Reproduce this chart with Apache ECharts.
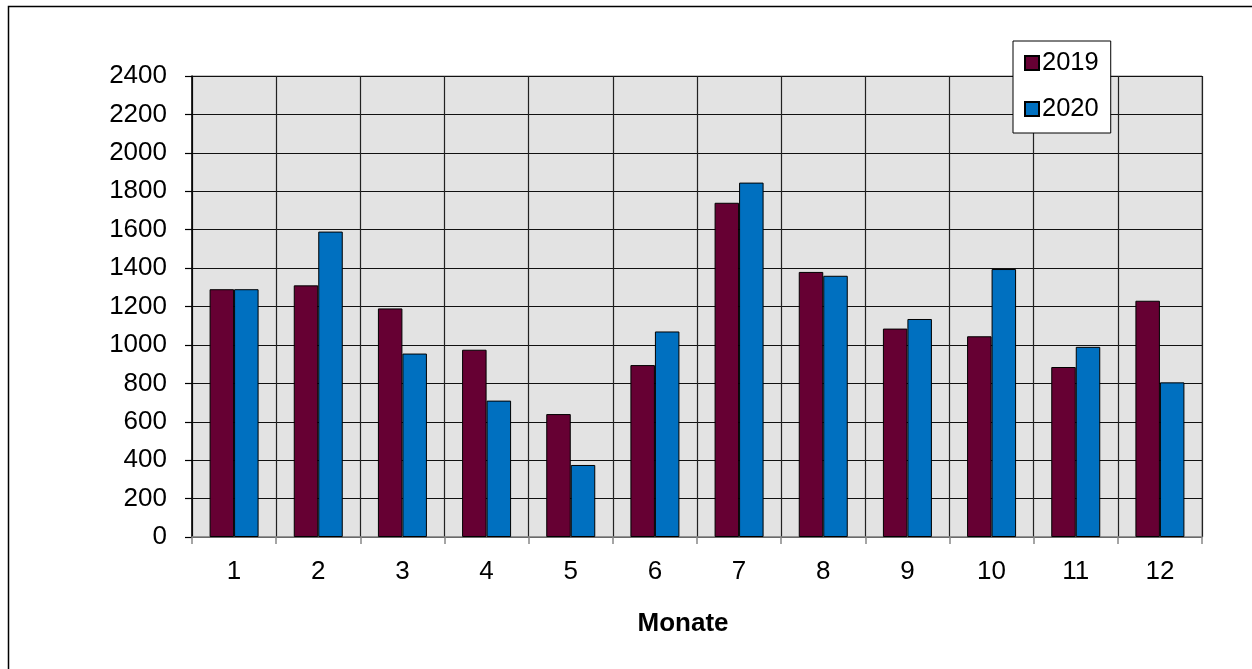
<!DOCTYPE html>
<html>
<head>
<meta charset="utf-8">
<script src="https://cdn.jsdelivr.net/npm/echarts@6/dist/echarts.min.js"></script>
<style>
html,body{margin:0;padding:0;background:#fff;}
#chart{width:1252px;height:669px;}
</style>
</head>
<body>
<div id="chart"></div>
<script>
const months = ['1','2','3','4','5','6','7','8','9','10','11','12'];
const yTicks = [0,200,400,600,800,1000,1200,1400,1600,1800,2000,2200,2400];
const values2019 = [1290,1310,1190,975,640,895,1740,1380,1085,1045,885,1230];
const values2020 = [1290,1590,955,710,375,1070,1845,1360,1135,1395,990,805];

const FONT = '"Liberation Sans", Arial, sans-serif';
const chart = echarts.init(document.getElementById('chart'));
chart.setOption({
  animation: false,
  backgroundColor: '#fff',
  textStyle: { fontFamily: FONT },
  graphic: [{
    type: 'rect',
    shape: { x: 8.5, y: 6.5, width: 1300, height: 700 },
    style: { fill: 'none', stroke: '#000', lineWidth: 1.5 },
    silent: true,
    z: 100
  }],
  legend: {
    orient: 'vertical',
    left: 1013,
    top: 41,
    padding: [9, 12, 11, 11],
    backgroundColor: '#fff',
    borderColor: '#000',
    borderWidth: 1,
    itemWidth: 14,
    itemHeight: 14,
    itemGap: 20,
    icon: 'rect',
    textStyle: { fontFamily: FONT, fontSize: 25.5, color: '#000', lineHeight: 24, padding: [0, 0, 0, -2] },
    data: ['2019', '2020']
  },
  grid: {
    left: 192,
    right: 50,
    top: 76,
    bottom: 132,
    show: true,
    backgroundColor: '#e3e3e3',
    borderColor: '#888',
    borderWidth: 1
  },
  xAxis: {
    type: 'category',
    data: months,
    boundaryGap: true,
    name: 'Monate',
    nameLocation: 'middle',
    nameGap: 74,
    nameTextStyle: { fontFamily: FONT, fontSize: 26, fontWeight: 'bold', color: '#000', padding: [0, 28, 0, 0] },
    axisLine: { show: true, lineStyle: { color: '#888', width: 1.5 } },
    axisTick: { show: true, alignWithLabel: false, length: 7, lineStyle: { color: '#888', width: 1.5 } },
    axisLabel: { fontFamily: FONT, fontSize: 26, color: '#000', margin: 22 },
    splitLine: { show: true, interval: 0, lineStyle: { color: '#222', width: 1.2 } }
  },
  yAxis: {
    type: 'value',
    min: yTicks[0],
    max: yTicks[yTicks.length - 1],
    interval: 200,
    axisLine: { show: true, lineStyle: { color: '#000', width: 1.5 } },
    axisTick: { show: true, length: 7, lineStyle: { color: '#000', width: 1.2 } },
    axisLabel: { fontFamily: FONT, fontSize: 26, color: '#000', margin: 25, formatter: function (v) { return String(v); } },
    splitLine: { show: true, lineStyle: { color: '#111', width: 1.2 } }
  },
  series: [
    {
      name: '2019',
      type: 'bar',
      data: values2019,
      barWidth: 24.5,
      barGap: '0%',
      itemStyle: { color: '#660033', borderColor: '#000', borderWidth: 1 }
    },
    {
      name: '2020',
      type: 'bar',
      data: values2020,
      barWidth: 24.5,
      barGap: '0%',
      itemStyle: { color: '#0070C0', borderColor: '#000', borderWidth: 1 }
    }
  ]
});
</script>
</body>
</html>
